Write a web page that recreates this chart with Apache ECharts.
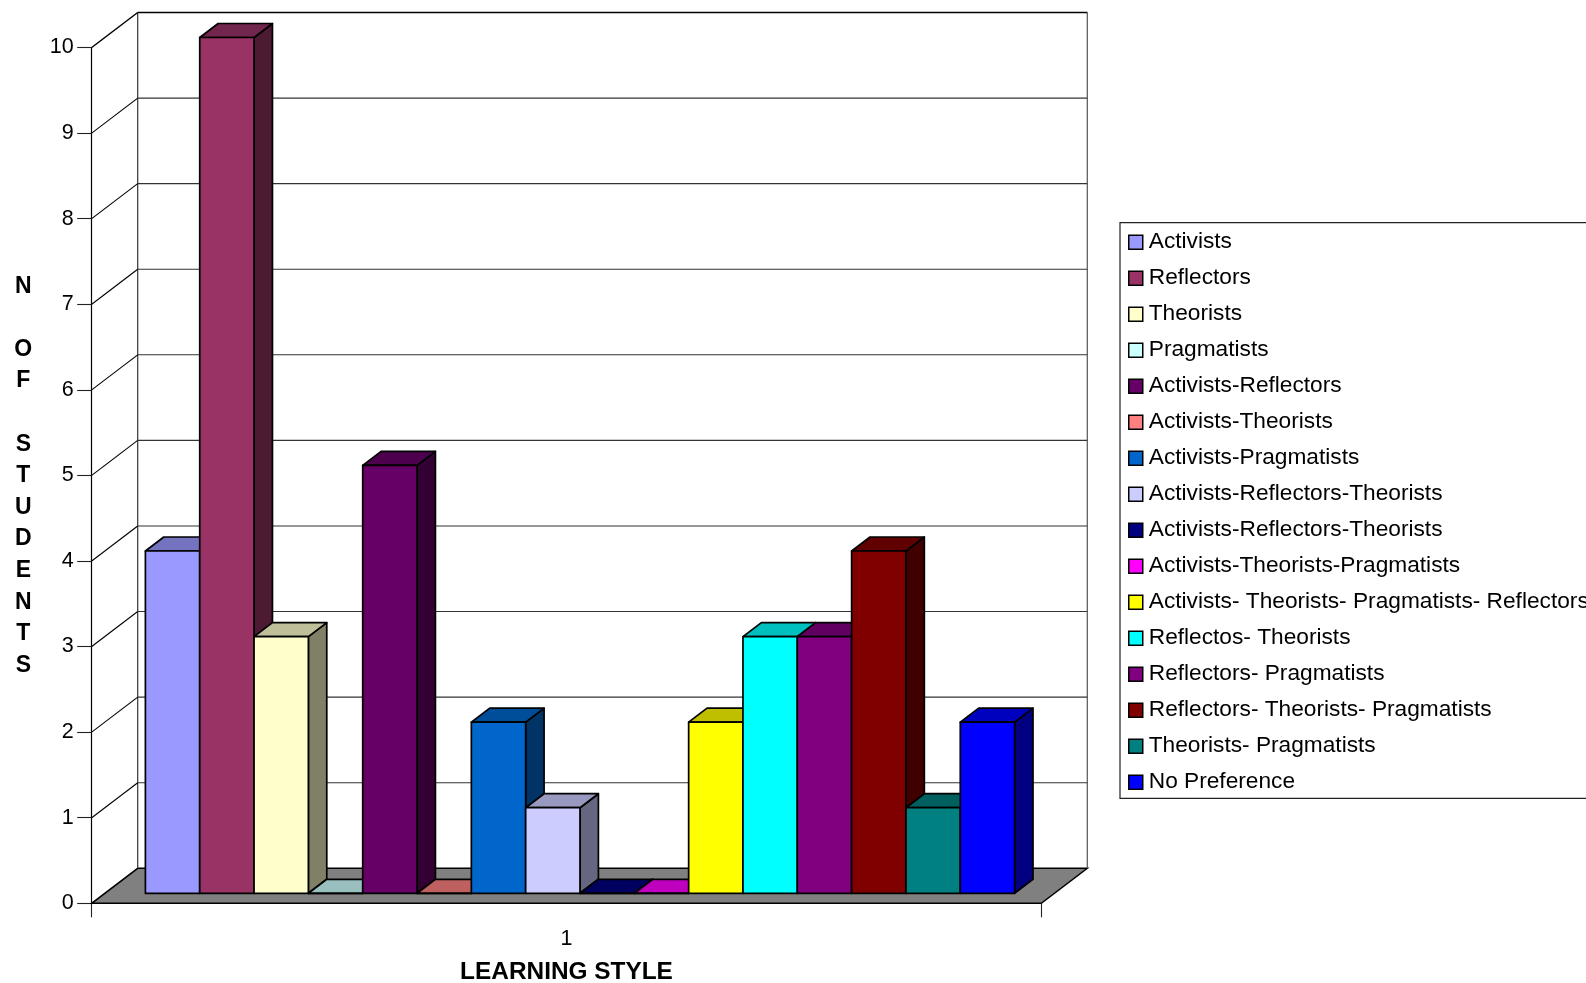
<!DOCTYPE html>
<html>
<head>
<meta charset="utf-8">
<title>Learning styles</title>
<style>
  html, body { margin: 0; padding: 0; background: #fff; overflow: hidden; }
  #chart { width: 1586px; height: 983px; }
</style>
<script src="https://cdn.jsdelivr.net/npm/echarts@6/dist/echarts.min.js"></script>
</head>
<body>
<div id="chart"></div>
<script>
// Number of students per learning style (one group, 16 bars).
const categories = ['1'];
const styleNames = [
  'Activists', 'Reflectors', 'Theorists', 'Pragmatists',
  'Activists-Reflectors', 'Activists-Theorists', 'Activists-Pragmatists',
  'Activists-Reflectors-Theorists',
  'Activists-Reflectors-Theorists ', // trailing space keeps the repeated label a separate legend key
  'Activists-Theorists-Pragmatists',
  'Activists- Theorists- Pragmatists- Reflectors',
  'Reflectos- Theorists', 'Reflectors- Pragmatists',
  'Reflectors- Theorists- Pragmatists', 'Theorists- Pragmatists', 'No Preference'
];
const studentCounts = [4, 10, 3, 0, 5, 0, 2, 1, 0, 0, 2, 3, 3, 4, 1, 2];
const styleColors = [
  '#9999FF', '#993366', '#FFFFCC', '#CCFFFF', '#660066', '#FF8080', '#0066CC', '#CCCCFF',
  '#000080', '#FF00FF', '#FFFF00', '#00FFFF', '#800080', '#800000', '#008080', '#0000FF'
];
const valueTicks = [0, 1, 2, 3, 4, 5, 6, 7, 8, 9, 10];
const valueAxisTitle = 'N\n\nO\nF\n\nS\nT\nU\nD\nE\nN\nT\nS';

const FONT = '"Liberation Sans", Arial, sans-serif';

// Oblique projection of the chart box: the floor recedes up and to the right.
const WALL_DX = 46, WALL_DY = -35;
const BAR_SHIFT_DX = 13.5, BAR_SHIFT_DY = -10;   // bars stand slightly behind the front edge
const BAR_DX = 18.4, BAR_DY = -14;               // depth of each bar
const BAR_SLOTS = 17.48;                         // 16 bars plus the gap around the cluster

function shade(hex, f) {
  const n = parseInt(hex.slice(1), 16);
  const c = [(n >> 16) & 255, (n >> 8) & 255, n & 255].map(v => Math.round(v * f));
  return 'rgb(' + c.join(',') + ')';
}

const edge = { stroke: '#000', lineWidth: 1.7, lineJoin: 'round' };

function renderBar(index) {
  return function (params, api) {
    const base = api.coord([0, 0]);
    const top = api.coord([0, api.value(1)]);
    const band = api.size([1, 0])[0];
    const w = band / BAR_SLOTS;
    const x0 = base[0] + BAR_SHIFT_DX - w * 8 + w * index;
    const x1 = x0 + w;
    const yB = base[1] + BAR_SHIFT_DY;
    const yT = top[1] + BAR_SHIFT_DY;
    const color = styleColors[index];
    const poly = (points, fill) => ({
      type: 'polygon', shape: { points }, style: Object.assign({ fill }, edge), silent: true
    });
    return {
      type: 'group',
      children: [
        poly([[x1, yB], [x1 + BAR_DX, yB + BAR_DY], [x1 + BAR_DX, yT + BAR_DY], [x1, yT]], shade(color, 0.5)),
        poly([[x0, yT], [x1, yT], [x1 + BAR_DX, yT + BAR_DY], [x0 + BAR_DX, yT + BAR_DY]], shade(color, 0.75)),
        poly([[x0, yB], [x1, yB], [x1, yT], [x0, yT]], color)
      ]
    };
  };
}

// Floor, walls and the receding gridlines, placed from the axis scales.
function renderFrame(params, api) {
  const v = api.value(1);
  const band = api.size([1, 0])[0];
  const p = api.coord([0, v]);
  const xL = p[0] - band / 2, xR = p[0] + band / 2, y = p[1];
  const isTop = v === valueTicks[valueTicks.length - 1];
  const children = [];
  const line = (x1, y1, x2, y2, stroke, lineWidth) => ({
    type: 'line', shape: { x1, y1, x2, y2 }, style: { stroke, lineWidth }, silent: true
  });
  if (v === valueTicks[0]) {
    const top = api.coord([0, valueTicks[valueTicks.length - 1]])[1];
    children.push({
      type: 'polygon',
      shape: { points: [[xL, y], [xR, y], [xR + WALL_DX, y + WALL_DY], [xL + WALL_DX, y + WALL_DY]] },
      style: { fill: '#808080', stroke: '#000', lineWidth: 1.5 }, silent: true
    });
    children.push(line(xL + WALL_DX, y + WALL_DY, xL + WALL_DX, top + WALL_DY, '#333', 1.2));
    children.push(line(xR + WALL_DX, y + WALL_DY, xR + WALL_DX, top + WALL_DY, '#555', 1.2));
  } else {
    children.push(line(xL, y, xL + WALL_DX, y + WALL_DY, '#000', isTop ? 1.5 : 1.1));
    children.push(line(xL + WALL_DX, y + WALL_DY, xR + WALL_DX, y + WALL_DY, isTop ? '#000' : '#333', isTop ? 1.5 : 1.1));
  }
  return { type: 'group', children };
}

const barSeries = styleNames.map((name, i) => ({
  name,
  type: 'custom',
  coordinateSystem: 'cartesian2d',
  renderItem: renderBar(i),
  itemStyle: { color: styleColors[i] },
  encode: { x: 0, y: 1 },
  data: [[0, studentCounts[i]]],
  clip: false,
  silent: true,
  z: 3
}));

const frameSeries = {
  name: 'frame',
  type: 'custom',
  coordinateSystem: 'cartesian2d',
  renderItem: renderFrame,
  encode: { x: 0, y: 1 },
  data: valueTicks.map(v => [0, v]),
  clip: false,
  silent: true,
  z: 1
};

const chart = echarts.init(document.getElementById('chart'), null, { renderer: 'canvas' });
chart.setOption({
  animation: false,
  backgroundColor: '#fff',
  // The stacked value-axis caption is placed as a title so each letter lands on its own row.
  title: {
    text: valueAxisTitle,
    left: 23.3,
    top: 270.5,
    padding: 0,
    textAlign: 'center',
    textStyle: { color: '#000', fontFamily: FONT, fontSize: 23, fontWeight: 'bold', lineHeight: 31.6 }
  },
  grid: { left: 91.7, top: 47.5, width: 949.6, height: 855.8, containLabel: false, outerBoundsMode: 'none' },
  xAxis: {
    type: 'category',
    data: categories,
    boundaryGap: true,
    axisLine: { show: true, lineStyle: { color: '#000', width: 1.2 } },
    axisTick: { show: true, length: 14, alignWithLabel: false, lineStyle: { color: '#222', width: 1.1 } },
    axisLabel: { color: '#000', fontFamily: FONT, fontSize: 21.5, margin: 25 },
    name: 'LEARNING STYLE',
    nameLocation: 'middle',
    nameGap: 57,
    nameTextStyle: { color: '#000', fontFamily: FONT, fontSize: 24.4, fontWeight: 'bold' }
  },
  yAxis: {
    type: 'value',
    min: 0,
    max: 10,
    interval: 1,
    splitLine: { show: false },
    axisLine: { show: true, lineStyle: { color: '#000', width: 1.2 } },
    axisTick: { show: true, length: 14.5, lineStyle: { color: '#222', width: 1.1 } },
    axisLabel: { color: '#000', fontFamily: FONT, fontSize: 21.5, margin: 18 }
  },
  legend: {
    orient: 'vertical',
    left: 1120,
    top: 222.7,
    padding: [7.5, 8, 4.1, 8],
    itemWidth: 14,
    itemHeight: 14,
    itemGap: 12,
    selectedMode: false,
    icon: 'rect',
    backgroundColor: '#fff',
    borderColor: '#222',
    borderWidth: 1.2,
    itemStyle: { borderColor: '#000', borderWidth: 1.5 },
    textStyle: { color: '#000', fontFamily: FONT, fontSize: 22.7, lineHeight: 22, padding: [0, 0, 2, 1] },
    formatter: name => name.trim(),
    data: styleNames
  },
  series: [frameSeries].concat(barSeries)
});
</script>
</body>
</html>
